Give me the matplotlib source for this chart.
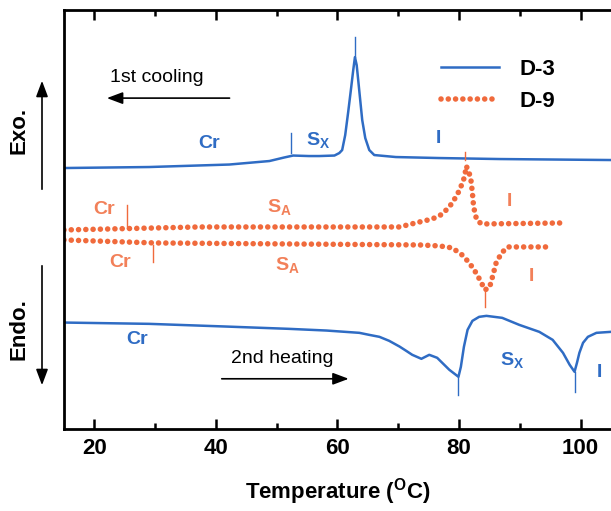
from matplotlib import pyplot as plt
from matplotlib.patches import FancyArrowPatch

plt.rcParams['font.family'] = ['Liberation Sans', 'DejaVu Sans']
plt.rcParams['mathtext.default'] = 'regular'

blue = '#2f6cc4'
orange = '#f06a3c'

# D-3, 1st cooling (temperature in C, heat flow in arb. units)
d3_cool_t = [15.0, 29.0, 42.2, 48.8, 51.2, 52.7, 55.3, 57.0, 59.5, 60.3, 60.77, 61.27, 61.76, 62.26,
             62.59, 62.87, 63.16, 63.41, 63.74, 64.07, 64.57, 65.23, 66.05, 69.6, 76.7, 86.6, 105.0]
d3_cool_y = [261, 262, 264.5, 268, 271.5, 273.5, 273, 273, 273.5, 276, 279, 294, 317, 342,
             359, 372, 364, 349, 329, 309, 291, 279, 274, 272, 271, 270, 269]

# D-3, 2nd heating
d3_heat_t = [15.0, 29.0, 41.7, 52.0, 58.2, 63.6, 65.2, 66.9, 68.5, 70.2, 71.3, 72.3, 73.8, 75.1,
             76.4, 78.4, 79.9, 80.3, 80.8, 81.4, 82.2, 83.3, 84.5, 87.1, 89.9, 93.2, 95.4,
             97.1, 98.2, 99.0, 99.4, 99.8, 100.4, 101.2, 102.6, 105.0]
d3_heat_y = [106.3, 105, 102.3, 100, 98.3, 96, 94, 92, 88, 82.3, 78, 74, 70, 74,
             71, 59, 52, 62, 82, 99, 108, 112, 113, 111, 104, 97, 89,
             76, 64, 57, 66, 76, 86, 92, 96, 97]

# D-9, cooling
d9_cool_t = [15.0, 30.0, 37.2, 70.2, 73.5, 75.6, 77.3, 78.9, 80.1, 80.9, 81.2, 81.9, 82.2, 82.4,
             82.9, 83.7, 97.0]
d9_cool_y = [199, 201, 202, 202, 207, 210, 215, 226, 239, 252, 263, 252, 236, 222,
             209, 205, 206]

# D-9, heating
d9_heat_t = [15.0, 30.0, 73.5, 76.8, 78.9, 80.5, 81.7, 82.8, 83.7, 84.2, 85.0, 85.5, 86.1, 87.0,
             88.0, 95.4]
d9_heat_y = [189, 186, 184, 183, 181, 174, 166, 156, 146, 139, 141, 152, 166, 176,
             182, 182]

# transition marks: (temperature, y from, y to)
d3_marks = [(52.4, 276, 296), (62.87, 372, 392), (79.9, 52, 34), (99.0, 57, 37)]
d9_marks = [(25.4, 201, 224), (29.6, 167, 184), (80.9, 269, 277), (84.2, 139, 122)]

# phase labels: (temperature, y, text)
d3_labels = [(38.9, 286, 'Cr'), (56.8, 289, 'S$_X$'), (76.6, 291, 'I'),
             (27.0, 89, 'Cr'), (88.8, 69, 'S$_X$'), (103.1, 56, 'I')]
d9_labels = [(21.6, 219, 'Cr'), (50.4, 222, 'S$_A$'), (88.3, 227, 'I'),
             (24.2, 166, 'Cr'), (51.7, 164, 'S$_A$'), (91.9, 152, 'I')]

fig = plt.figure(figsize=(6.11, 5.11), dpi=100)
ax = fig.add_axes([0.1047, 0.161, 0.8953, 0.820])

dot = dict(color=orange, lw=4.0, linestyle=(0, (0.01, 1.3)), dash_capstyle='round')
ax.plot(d3_cool_t, d3_cool_y, color=blue, lw=1.8, label='D-3')
ax.plot(d3_heat_t, d3_heat_y, color=blue, lw=1.8)
ax.plot(d9_cool_t, d9_cool_y, label='D-9', **dot)
ax.plot(d9_heat_t, d9_heat_y, **dot)

for t, y0, y1 in d3_marks:
  ax.plot([t, t], [y0, y1], color=blue, lw=1.0)
for t, y0, y1 in d9_marks:
  ax.plot([t, t], [y0, y1], color=orange, lw=1.0)

for t, y, s in d3_labels:
  ax.text(t, y, s, color=blue, fontsize=14, fontweight='bold', ha='center', va='center')
for t, y, s in d9_labels:
  ax.text(t, y, s, color=orange, fontsize=14, fontweight='bold', ha='center', va='center', alpha=0.85)

ax.text(30.2, 352, '1st cooling', fontsize=14, ha='center', va='center')
ax.annotate('', xy=(21.6, 331), xytext=(42.7, 331),
            arrowprops=dict(arrowstyle='-|>,head_width=0.3,head_length=0.8', color='black',
                            lw=1.2, mutation_scale=12))
ax.text(50.9, 70, '2nd heating', fontsize=14, ha='center', va='center')
ax.annotate('', xy=(62.3, 50), xytext=(40.5, 50),
            arrowprops=dict(arrowstyle='-|>,head_width=0.3,head_length=0.8', color='black',
                            lw=1.2, mutation_scale=12))

ax.legend(loc='upper left', bbox_to_anchor=(0.69, 0.882), frameon=False,
          prop={'weight': 'bold', 'size': 16}, handlelength=2.6, handletextpad=0.9,
          labelspacing=0.5, borderpad=0, borderaxespad=0)

ax.set_xlim(15, 105)
ax.set_ylim(0, 419.5)
ax.set_xticks([20, 40, 60, 80, 100])
ax.set_xticks([30, 50, 70, 90], minor=True)
ax.set_yticks([])
ax.tick_params(axis='x', which='both', direction='in', top=True, width=1.8, pad=7,
               labelsize=16)
ax.tick_params(axis='x', which='major', length=7)
ax.tick_params(axis='x', which='minor', length=4)
for lab in ax.get_xticklabels():
  lab.set_fontweight('bold')
for s in ['left', 'bottom', 'top']:
  ax.spines[s].set_linewidth(2)
ax.spines['right'].set_visible(False)
ax.set_xlabel('Temperature ($^{O}$C)', fontsize=16, fontweight='bold', labelpad=12)

# Exo / Endo markers outside the axes
fig.text(19 / 611, 1 - 130 / 511, 'Exo.', rotation=90, fontsize=16, fontweight='bold',
         ha='center', va='center')
fig.text(19 / 611, 1 - 329 / 511, 'Endo.', rotation=90, fontsize=16, fontweight='bold',
         ha='center', va='center')
arr = dict(transform=fig.transFigure, arrowstyle='-|>,head_width=0.3,head_length=0.8',
           mutation_scale=12, lw=1.2, color='black')
fig.add_artist(FancyArrowPatch((42 / 611, 1 - 192 / 511), (42 / 611, 1 - 78 / 511), **arr))
fig.add_artist(FancyArrowPatch((42 / 611, 1 - 263 / 511), (42 / 611, 1 - 388 / 511), **arr))

fig.savefig('out.png', dpi=100)
